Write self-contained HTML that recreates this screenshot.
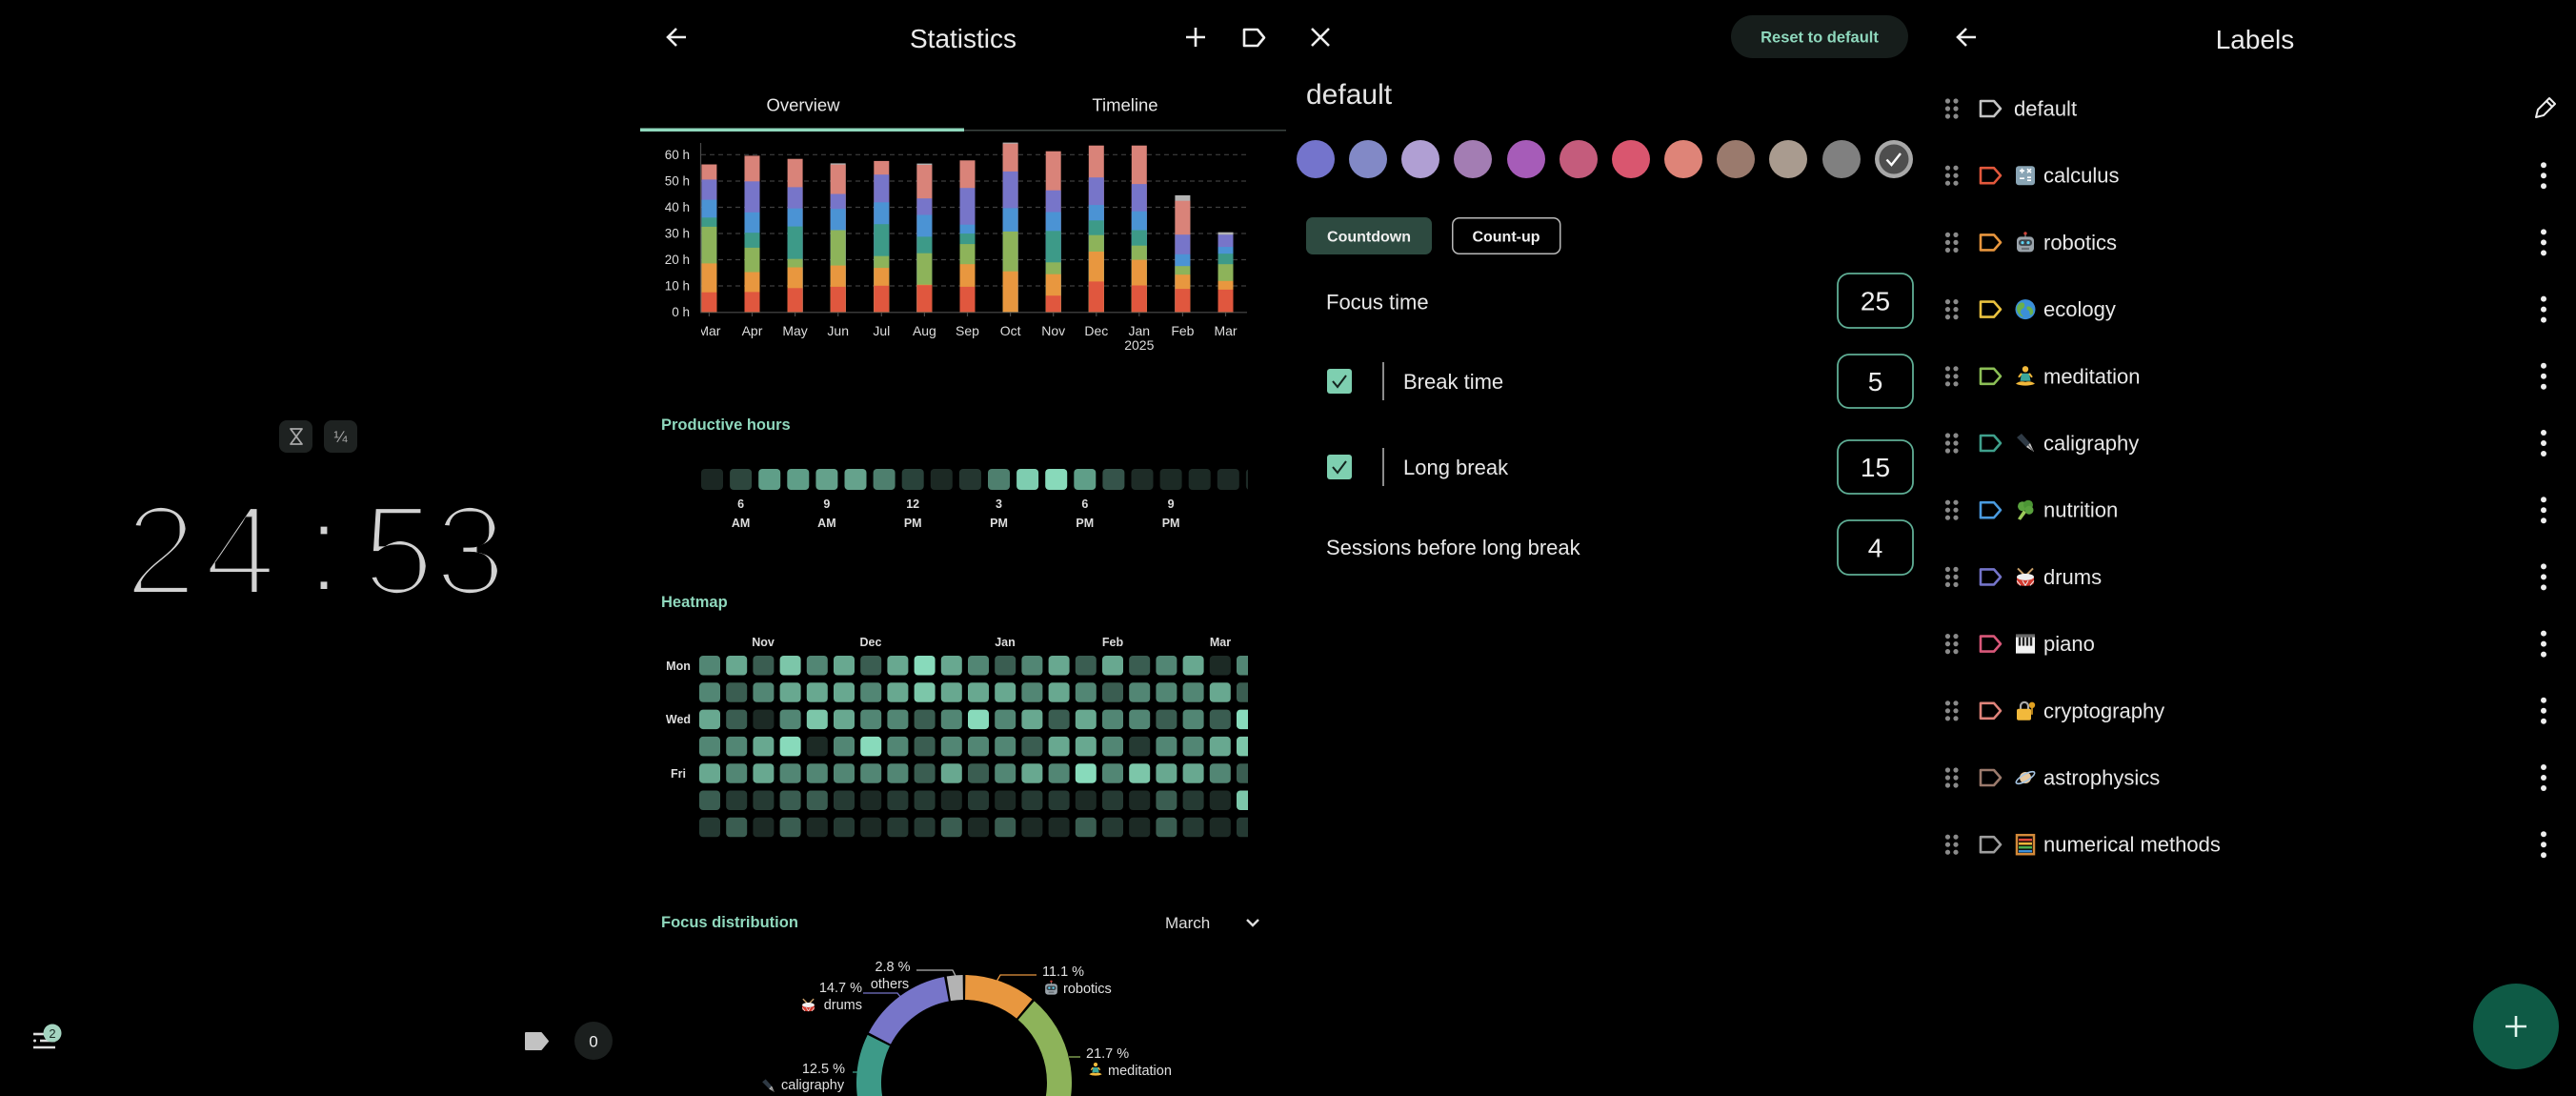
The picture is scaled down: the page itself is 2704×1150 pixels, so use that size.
<!DOCTYPE html>
<html>
<head>
<meta charset="utf-8">
<style>
html,body{margin:0;padding:0;background:#000;}
body{width:2704px;height:1150px;overflow:hidden;}
svg{display:block;}
text{font-family:"Liberation Sans","DejaVu Sans",sans-serif;}
.cR{fill:#e0573e}.cO{fill:#e8973f}.cG{fill:#8db35a}.cT{fill:#3d9a88}.cB{fill:#4b93d4}.cI{fill:#7775c9}.cS{fill:#d98379}.cY{fill:#b3b3b3}
.h0{fill:#1c2a25}.h1{fill:#253a33}.h2{fill:#3a5d51}.h3{fill:#528674}.h4{fill:#68a890}.h5{fill:#7cc6a9}.h6{fill:#88dabb}
</style>
</head>
<body>
<svg width="2704" height="1150" viewBox="0 0 2704 1150" xmlns="http://www.w3.org/2000/svg">
<defs>
  <filter id="thin" x="-10%" y="-10%" width="120%" height="120%"><feMorphology operator="erode" radius="3.2"/></filter>
  <clipPath id="chartClip"><rect x="736" y="140" width="574" height="240"/></clipPath>
  <clipPath id="gridClip"><rect x="700" y="480" width="610" height="420"/></clipPath>
  <clipPath id="bottomClip"><rect x="676" y="980" width="676" height="170"/></clipPath>
  <rect id="hc" width="23" height="22" rx="4"/>
  <rect id="mc" width="22" height="20.5" rx="4"/>
  <path id="tag" d="M0,-8 H14 L21,0 L14,8 H0 Z" fill="none" stroke-width="2.6" stroke-linejoin="round"/>
  <g id="drag" fill="#8a8a8a"><circle cx="0" cy="-8" r="2.6"/><circle cx="8.5" cy="-8" r="2.6"/><circle cx="0" cy="0" r="2.6"/><circle cx="8.5" cy="0" r="2.6"/><circle cx="0" cy="8" r="2.6"/><circle cx="8.5" cy="8" r="2.6"/></g>
  <g id="kebab" fill="#eeeeee"><circle cx="0" cy="-11" r="3"/><circle cx="0" cy="0" r="3"/><circle cx="0" cy="11" r="3"/></g>
  <symbol id="eCalc" viewBox="0 0 24 24"><rect x="2" y="2" width="20" height="20" rx="3" fill="#8aa5b5"/><path d="M6 7h5M8.5 4.5v5M14 5l4 4M18 5l-4 4M6 15h5M14 14h4M14 17h4M8 18v0" stroke="#fff" stroke-width="1.6"/></symbol>
  <symbol id="eRobot" viewBox="0 0 24 24"><rect x="11.3" y="2.5" width="1.4" height="4" fill="#777"/><circle cx="12" cy="2.5" r="1.7" fill="#d0453a"/><rect x="3" y="6" width="18" height="16" rx="4" fill="#9aa3aa"/><rect x="5" y="9" width="14" height="6.5" rx="3" fill="#3b4248"/><circle cx="9" cy="12.2" r="1.6" fill="#5fd3f3"/><circle cx="15" cy="12.2" r="1.6" fill="#5fd3f3"/><rect x="8" y="17.5" width="8" height="2.2" fill="#6b7278"/></symbol>
  <symbol id="eGlobe" viewBox="0 0 24 24"><circle cx="12" cy="12" r="10.5" fill="#3b8fd9"/><path d="M7 5c3-1 5 1 4 4s-4 2-4 6c0 2 2 3 3 5-4-1-7-5-7-9 0-3 2-5 4-6zM14 9c2-1 5 1 6 4s-1 5-3 5c-1-2 0-4-2-5s-2-3-1-4z" fill="#6ab04c"/></symbol>
  <symbol id="eMed" viewBox="0 0 24 24"><circle cx="12" cy="4.5" r="3.2" fill="#f2b93b"/><path d="M8 9h8l1.5 8h-11z" fill="#3aa79a"/><path d="M5 13l3-4M19 13l-3-4" stroke="#f2b93b" stroke-width="2"/><path d="M2 20c3-3 7-3 10-2 3-1 7-1 10 2-6 2.5-14 2.5-20 0z" fill="#f2b93b"/></symbol>
  <symbol id="ePen" viewBox="0 0 24 24"><path d="M3 6l5-4 9 10-4 4z" fill="#2f3a45"/><path d="M13 16l4-4 4 9z" fill="#c9c9c9"/><path d="M15 14l5 6" stroke="#555" stroke-width="1"/></symbol>
  <symbol id="eBroc" viewBox="0 0 24 24"><path d="M10 12l-6 9 3 1.5 6-8z" fill="#9cc95a"/><circle cx="9" cy="8" r="5" fill="#5aa23e"/><circle cx="15" cy="6.5" r="5" fill="#4c9535"/><circle cx="16" cy="12" r="4.5" fill="#5aa23e"/></symbol>
  <symbol id="eDrum" viewBox="0 0 24 24"><path d="M4 3l7 7M20 3l-7 7" stroke="#c9a06a" stroke-width="2"/><path d="M3 12v6c0 2 4 3.5 9 3.5s9-1.5 9-3.5v-6z" fill="#d33a2f"/><ellipse cx="12" cy="12" rx="9" ry="3.5" fill="#eeeeee"/><path d="M3 16l4 5M9 16l3 5M15 16l-3 5M21 16l-4 5" stroke="#eee" stroke-width="1"/></symbol>
  <symbol id="ePiano" viewBox="0 0 24 24"><rect x="2" y="2" width="20" height="20" fill="#f2f2f2"/><rect x="2" y="2" width="20" height="3" fill="#666"/><path d="M6 5v9M10 5v9M14 5v9M18 5v9" stroke="#222" stroke-width="2.4"/></symbol>
  <symbol id="eLock" viewBox="0 0 24 24"><path d="M7 11V7a4 4 0 0 1 8 0v4" stroke="#aaa" stroke-width="2.2" fill="none"/><rect x="3" y="10" width="15" height="12" rx="2" fill="#f2b93b"/><circle cx="19" cy="6" r="3.2" fill="#e0a020"/><rect x="18.2" y="8" width="1.6" height="8" fill="#e0a020"/></symbol>
  <symbol id="ePlanet" viewBox="0 0 24 24"><circle cx="12" cy="12" r="6" fill="#e8c9a0"/><ellipse cx="12" cy="12" rx="11" ry="3.5" fill="none" stroke="#a7c6e4" stroke-width="1.6" transform="rotate(-30 12 12)"/></symbol>
  <symbol id="eAbacus" viewBox="0 0 24 24"><rect x="3" y="2" width="18" height="20" fill="none" stroke="#d48a3a" stroke-width="2.5"/><path d="M5 7h14" stroke="#e04a3a" stroke-width="2.6"/><path d="M5 11h14" stroke="#f0b43c" stroke-width="2.6"/><path d="M5 15h14" stroke="#4caf50" stroke-width="2.6"/><path d="M5 19h14" stroke="#3b8fd9" stroke-width="2.6"/></symbol>
</defs>

<!-- ================= PANEL 1 : TIMER ================= -->
<rect x="293" y="441" width="35" height="34" rx="8" fill="#1e2221"/>
<path d="M305,450 h12 l-12,16 h12 z" fill="none" stroke="#a8a8a8" stroke-width="1.8" stroke-linejoin="round"/>
<rect x="340" y="441" width="35" height="34" rx="8" fill="#1e2221"/>
<text x="357.5" y="464" font-size="17" fill="#a8a8a8" text-anchor="middle">¼</text>

<g filter="url(#thin)" fill="#d2d2d2" font-size="135" text-anchor="middle">
  <text x="168.5" y="624">2</text>
  <text x="252" y="624">4</text>
  <text x="340" y="621">:</text>
  <text x="418" y="624">5</text>
  <text x="493.5" y="624">3</text>
</g>

<!-- bottom bar -->
<g stroke="#dddddd" stroke-width="2.6" stroke-linecap="butt">
  <line x1="35" y1="1085" x2="48" y2="1085"/>
  <line x1="42" y1="1092" x2="58" y2="1092"/>
  <line x1="35" y1="1099" x2="58" y2="1099"/>
</g>
<circle cx="36.5" cy="1092" r="1.5" fill="#ddd"/>
<circle cx="55" cy="1084" r="9.5" fill="#a4d4c0"/>
<text x="55" y="1089" font-size="13" fill="#1a2a24" text-anchor="middle">2</text>
<path d="M552,1084 H568 L575,1092.5 L568,1101 H552 Z" fill="#c2c2c2" stroke="#c2c2c2" stroke-width="2" stroke-linejoin="round"/>
<circle cx="623" cy="1092" r="20" fill="#1b1f1e"/>
<text x="623" y="1098.5" font-size="17" fill="#f0f0f0" text-anchor="middle">0</text>

<!-- ================= PANEL 2 : STATISTICS ================= -->
<path d="M720,39 H701 M710,30 L701,39 L710,48" fill="none" stroke="#eeeeee" stroke-width="2.6" stroke-linejoin="miter"/>
<text x="1011" y="50" font-size="28" fill="#ececec" text-anchor="middle">Statistics</text>
<path d="M1245,39 H1265 M1255,29 V49" stroke="#eeeeee" stroke-width="2.6"/>
<path d="M1306,31 H1320 L1327,39.5 L1320,48 H1306 Z" fill="none" stroke="#eeeeee" stroke-width="2.6" stroke-linejoin="round"/>

<text x="843" y="116.5" font-size="18.5" fill="#e8e8e8" text-anchor="middle">Overview</text>
<text x="1181" y="116.5" font-size="18.5" fill="#e8e8e8" text-anchor="middle">Timeline</text>
<rect x="1012" y="136" width="338" height="1.5" fill="#3b4441"/>
<rect x="672" y="134.5" width="340" height="3.5" fill="#8fd8bd"/>

<!-- chart axes -->
<line x1="735.5" y1="150" x2="735.5" y2="327.3" stroke="#4a4a4a" stroke-width="1.2"/>
<g stroke="#3e3e3e" stroke-width="1.2" stroke-dasharray="5 4">
  <line x1="736" y1="162.3" x2="1309" y2="162.3"/>
  <line x1="736" y1="190" x2="1309" y2="190"/>
  <line x1="736" y1="217.5" x2="1309" y2="217.5"/>
  <line x1="736" y1="245" x2="1309" y2="245"/>
  <line x1="736" y1="272.5" x2="1309" y2="272.5"/>
  <line x1="736" y1="300" x2="1309" y2="300"/>
</g>
<line x1="735" y1="327.8" x2="1309" y2="327.8" stroke="#4a4a4a" stroke-width="1.2"/>
<g font-size="13.5" fill="#dddddd" text-anchor="end">
  <text x="724" y="167">60 h</text>
  <text x="724" y="194.5">50 h</text>
  <text x="724" y="222">40 h</text>
  <text x="724" y="249.5">30 h</text>
  <text x="724" y="277">20 h</text>
  <text x="724" y="304.5">10 h</text>
  <text x="724" y="332">0 h</text>
</g>
<g stroke="#4a4a4a" stroke-width="1.2">
  <line x1="744.4" y1="328" x2="744.4" y2="332"/><line x1="789.5" y1="328" x2="789.5" y2="332"/><line x1="834.6" y1="328" x2="834.6" y2="332"/><line x1="879.7" y1="328" x2="879.7" y2="332"/><line x1="925.3" y1="328" x2="925.3" y2="332"/><line x1="970.4" y1="328" x2="970.4" y2="332"/><line x1="1015.5" y1="328" x2="1015.5" y2="332"/><line x1="1060.6" y1="328" x2="1060.6" y2="332"/><line x1="1105.7" y1="328" x2="1105.7" y2="332"/><line x1="1150.8" y1="328" x2="1150.8" y2="332"/><line x1="1195.8" y1="328" x2="1195.8" y2="332"/><line x1="1241.4" y1="328" x2="1241.4" y2="332"/><line x1="1286.5" y1="328" x2="1286.5" y2="332"/>
</g>
<g font-size="14" fill="#dddddd" text-anchor="middle" clip-path="url(#chartClip)">
  <text x="744.4" y="352">Mar</text><text x="789.5" y="352">Apr</text><text x="834.6" y="352">May</text><text x="879.7" y="352">Jun</text><text x="925.3" y="352">Jul</text><text x="970.4" y="352">Aug</text><text x="1015.5" y="352">Sep</text><text x="1060.6" y="352">Oct</text><text x="1105.7" y="352">Nov</text><text x="1150.8" y="352">Dec</text><text x="1195.8" y="352">Jan</text><text x="1241.4" y="352">Feb</text><text x="1286.5" y="352">Mar</text>
  <text x="1195.8" y="367">2025</text>
</g>

<!-- bars -->
<g>
<rect x="736.4" y="172.5" width="16" height="154.8" class="cS"/><rect x="736.4" y="188.4" width="16" height="138.9" class="cI"/><rect x="736.4" y="209.6" width="16" height="117.7" class="cB"/><rect x="736.4" y="228.3" width="16" height="99" class="cT"/><rect x="736.4" y="237.9" width="16" height="89.4" class="cG"/><rect x="736.4" y="276.4" width="16" height="50.9" class="cO"/><rect x="736.4" y="306.7" width="16" height="20.6" class="cR"/>
<rect x="781.5" y="163.4" width="16" height="163.9" class="cS"/><rect x="781.5" y="190.3" width="16" height="137" class="cI"/><rect x="781.5" y="222.8" width="16" height="104.5" class="cB"/><rect x="781.5" y="244.2" width="16" height="83.1" class="cT"/><rect x="781.5" y="259.9" width="16" height="67.4" class="cG"/><rect x="781.5" y="285.5" width="16" height="41.8" class="cO"/><rect x="781.5" y="306.4" width="16" height="20.9" class="cR"/>
<rect x="826.6" y="166.7" width="16" height="160.6" class="cS"/><rect x="826.6" y="196.4" width="16" height="130.9" class="cI"/><rect x="826.6" y="218.7" width="16" height="108.6" class="cB"/><rect x="826.6" y="237.6" width="16" height="89.7" class="cT"/><rect x="826.6" y="271.7" width="16" height="55.6" class="cG"/><rect x="826.6" y="280.5" width="16" height="46.8" class="cO"/><rect x="826.6" y="302.3" width="16" height="25" class="cR"/>
<rect x="871.7" y="171.4" width="16" height="155.9" class="cY"/><rect x="871.7" y="172.7" width="16" height="154.6" class="cS"/><rect x="871.7" y="203.5" width="16" height="123.8" class="cI"/><rect x="871.7" y="219.2" width="16" height="108.1" class="cB"/><rect x="871.7" y="241.5" width="16" height="85.8" class="cG"/><rect x="871.7" y="278.6" width="16" height="48.7" class="cO"/><rect x="871.7" y="300.9" width="16" height="26.4" class="cR"/>
<rect x="917.3" y="168.9" width="16" height="158.4" class="cS"/><rect x="917.3" y="183.2" width="16" height="144.1" class="cI"/><rect x="917.3" y="212.3" width="16" height="115" class="cB"/><rect x="917.3" y="235.2" width="16" height="92.1" class="cT"/><rect x="917.3" y="268.7" width="16" height="58.6" class="cG"/><rect x="917.3" y="281.1" width="16" height="46.2" class="cO"/><rect x="917.3" y="299.8" width="16" height="27.5" class="cR"/>
<rect x="962.4" y="171.6" width="16" height="155.7" class="cY"/><rect x="962.4" y="173" width="16" height="154.3" class="cS"/><rect x="962.4" y="208.2" width="16" height="119.1" class="cI"/><rect x="962.4" y="225.5" width="16" height="101.8" class="cB"/><rect x="962.4" y="248.4" width="16" height="78.9" class="cT"/><rect x="962.4" y="265.7" width="16" height="61.6" class="cG"/><rect x="962.4" y="298.7" width="16" height="28.6" class="cO"/><rect x="962.4" y="299.2" width="16" height="28.1" class="cR"/>
<rect x="1007.5" y="168.3" width="16" height="159" class="cS"/><rect x="1007.5" y="197.2" width="16" height="130.1" class="cI"/><rect x="1007.5" y="235.7" width="16" height="91.6" class="cB"/><rect x="1007.5" y="245.1" width="16" height="82.2" class="cT"/><rect x="1007.5" y="256.1" width="16" height="71.2" class="cG"/><rect x="1007.5" y="277.2" width="16" height="50.1" class="cO"/><rect x="1007.5" y="300.9" width="16" height="26.4" class="cR"/>
<rect x="1052.6" y="149.6" width="16" height="177.7" class="cY"/><rect x="1052.6" y="150.7" width="16" height="176.6" class="cS"/><rect x="1052.6" y="179.9" width="16" height="147.4" class="cI"/><rect x="1052.6" y="218.4" width="16" height="108.9" class="cB"/><rect x="1052.6" y="242.9" width="16" height="84.4" class="cG"/><rect x="1052.6" y="284.7" width="16" height="42.6" class="cO"/>
<rect x="1097.7" y="158.7" width="16" height="168.6" class="cS"/><rect x="1097.7" y="199.7" width="16" height="127.6" class="cI"/><rect x="1097.7" y="222.5" width="16" height="104.8" class="cB"/><rect x="1097.7" y="242.3" width="16" height="85" class="cT"/><rect x="1097.7" y="275.3" width="16" height="52" class="cG"/><rect x="1097.7" y="287.7" width="16" height="39.6" class="cO"/><rect x="1097.7" y="310.2" width="16" height="17.1" class="cR"/>
<rect x="1142.8" y="152.7" width="16" height="174.6" class="cS"/><rect x="1142.8" y="186.2" width="16" height="141.1" class="cI"/><rect x="1142.8" y="215.1" width="16" height="112.2" class="cB"/><rect x="1142.8" y="231.3" width="16" height="96" class="cT"/><rect x="1142.8" y="246.7" width="16" height="80.6" class="cG"/><rect x="1142.8" y="264" width="16" height="63.3" class="cO"/><rect x="1142.8" y="295.4" width="16" height="31.9" class="cR"/>
<rect x="1187.8" y="152.7" width="16" height="174.6" class="cS"/><rect x="1187.8" y="193.1" width="16" height="134.2" class="cI"/><rect x="1187.8" y="221.7" width="16" height="105.6" class="cB"/><rect x="1187.8" y="241.5" width="16" height="85.8" class="cT"/><rect x="1187.8" y="257.7" width="16" height="69.6" class="cG"/><rect x="1187.8" y="272.6" width="16" height="54.7" class="cO"/><rect x="1187.8" y="299.5" width="16" height="27.8" class="cR"/>
<rect x="1233.4" y="204.9" width="16" height="122.4" class="cY"/><rect x="1233.4" y="210.7" width="16" height="116.6" class="cS"/><rect x="1233.4" y="246.2" width="16" height="81.1" class="cI"/><rect x="1233.4" y="266.8" width="16" height="60.5" class="cB"/><rect x="1233.4" y="279.2" width="16" height="48.1" class="cG"/><rect x="1233.4" y="288.2" width="16" height="39.1" class="cO"/><rect x="1233.4" y="303.1" width="16" height="24.2" class="cR"/>
<rect x="1278.5" y="243.7" width="16" height="83.6" class="cY"/><rect x="1278.5" y="246.2" width="16" height="81.1" class="cI"/><rect x="1278.5" y="259.1" width="16" height="68.2" class="cB"/><rect x="1278.5" y="266.2" width="16" height="61.1" class="cT"/><rect x="1278.5" y="277.2" width="16" height="50.1" class="cG"/><rect x="1278.5" y="294.8" width="16" height="32.5" class="cO"/><rect x="1278.5" y="303.9" width="16" height="23.4" class="cR"/>
</g>

<!-- productive hours -->
<text x="694" y="451" font-size="16.5" font-weight="bold" fill="#8fd8bd">Productive hours</text>
<g clip-path="url(#gridClip)">
<use href="#hc" x="736" y="492" fill="#1b2723"/><use href="#hc" x="766.1" y="492" fill="#2d463d"/><use href="#hc" x="796.2" y="492" fill="#5f9e88"/><use href="#hc" x="826.3" y="492" fill="#5f9e88"/><use href="#hc" x="856.4" y="492" fill="#64a18b"/><use href="#hc" x="886.5" y="492" fill="#65a28c"/><use href="#hc" x="916.6" y="492" fill="#4e7f6e"/><use href="#hc" x="946.7" y="492" fill="#29423a"/><use href="#hc" x="976.8" y="492" fill="#1c2924"/><use href="#hc" x="1006.9" y="492" fill="#243630"/><use href="#hc" x="1037" y="492" fill="#4e7f6e"/><use href="#hc" x="1067.1" y="492" fill="#7ecdb0"/><use href="#hc" x="1097.2" y="492" fill="#88d9ba"/><use href="#hc" x="1127.3" y="492" fill="#5f9e88"/><use href="#hc" x="1157.4" y="492" fill="#35534a"/><use href="#hc" x="1187.5" y="492" fill="#1e2c27"/><use href="#hc" x="1217.6" y="492" fill="#1c2a25"/><use href="#hc" x="1247.7" y="492" fill="#1c2a25"/><use href="#hc" x="1277.8" y="492" fill="#1d2a26"/><use href="#hc" x="1307.9" y="492" fill="#1d2a26"/>
</g>
<g font-size="12.5" font-weight="bold" fill="#dddddd" text-anchor="middle">
  <text x="777.6" y="533">6</text><text x="777.6" y="553">AM</text>
  <text x="867.9" y="533">9</text><text x="867.9" y="553">AM</text>
  <text x="958.2" y="533">12</text><text x="958.2" y="553">PM</text>
  <text x="1048.5" y="533">3</text><text x="1048.5" y="553">PM</text>
  <text x="1138.8" y="533">6</text><text x="1138.8" y="553">PM</text>
  <text x="1229.1" y="533">9</text><text x="1229.1" y="553">PM</text>
</g>

<!-- heatmap -->
<text x="694" y="637" font-size="16.5" font-weight="bold" fill="#8fd8bd">Heatmap</text>
<g font-size="12.5" font-weight="bold" fill="#dddddd" text-anchor="middle">
  <text x="801" y="678">Nov</text><text x="914" y="678">Dec</text><text x="1055" y="678">Jan</text><text x="1168" y="678">Feb</text><text x="1281" y="678">Mar</text>
  <text x="712" y="703">Mon</text><text x="712" y="759">Wed</text><text x="712" y="816">Fri</text>
</g>
<g clip-path="url(#gridClip)">
<g transform="translate(0,688)">
<use href="#mc" x="734" class="h3"/><use href="#mc" x="762.2" class="h4"/><use href="#mc" x="790.4" class="h2"/><use href="#mc" x="818.6" class="h5"/><use href="#mc" x="846.8" class="h3"/><use href="#mc" x="875" class="h4"/><use href="#mc" x="903.2" class="h2"/><use href="#mc" x="931.4" class="h4"/><use href="#mc" x="959.6" class="h6"/><use href="#mc" x="987.8" class="h4"/><use href="#mc" x="1016" class="h3"/><use href="#mc" x="1044.2" class="h2"/><use href="#mc" x="1072.4" class="h3"/><use href="#mc" x="1100.6" class="h4"/><use href="#mc" x="1128.8" class="h2"/><use href="#mc" x="1157" class="h4"/><use href="#mc" x="1185.2" class="h2"/><use href="#mc" x="1213.4" class="h3"/><use href="#mc" x="1241.6" class="h4"/><use href="#mc" x="1269.8" class="h0"/><use href="#mc" x="1298" class="h3"/>
</g>
<g transform="translate(0,716.3)">
<use href="#mc" x="734" class="h3"/><use href="#mc" x="762.2" class="h2"/><use href="#mc" x="790.4" class="h3"/><use href="#mc" x="818.6" class="h4"/><use href="#mc" x="846.8" class="h4"/><use href="#mc" x="875" class="h4"/><use href="#mc" x="903.2" class="h3"/><use href="#mc" x="931.4" class="h4"/><use href="#mc" x="959.6" class="h5"/><use href="#mc" x="987.8" class="h4"/><use href="#mc" x="1016" class="h4"/><use href="#mc" x="1044.2" class="h4"/><use href="#mc" x="1072.4" class="h3"/><use href="#mc" x="1100.6" class="h4"/><use href="#mc" x="1128.8" class="h3"/><use href="#mc" x="1157" class="h2"/><use href="#mc" x="1185.2" class="h3"/><use href="#mc" x="1213.4" class="h3"/><use href="#mc" x="1241.6" class="h3"/><use href="#mc" x="1269.8" class="h4"/><use href="#mc" x="1298" class="h2"/>
</g>
<g transform="translate(0,744.6)">
<use href="#mc" x="734" class="h4"/><use href="#mc" x="762.2" class="h2"/><use href="#mc" x="790.4" class="h0"/><use href="#mc" x="818.6" class="h3"/><use href="#mc" x="846.8" class="h5"/><use href="#mc" x="875" class="h4"/><use href="#mc" x="903.2" class="h3"/><use href="#mc" x="931.4" class="h3"/><use href="#mc" x="959.6" class="h2"/><use href="#mc" x="987.8" class="h3"/><use href="#mc" x="1016" class="h6"/><use href="#mc" x="1044.2" class="h3"/><use href="#mc" x="1072.4" class="h4"/><use href="#mc" x="1100.6" class="h2"/><use href="#mc" x="1128.8" class="h4"/><use href="#mc" x="1157" class="h3"/><use href="#mc" x="1185.2" class="h3"/><use href="#mc" x="1213.4" class="h2"/><use href="#mc" x="1241.6" class="h3"/><use href="#mc" x="1269.8" class="h2"/><use href="#mc" x="1298" class="h6"/>
</g>
<g transform="translate(0,772.9)">
<use href="#mc" x="734" class="h3"/><use href="#mc" x="762.2" class="h3"/><use href="#mc" x="790.4" class="h4"/><use href="#mc" x="818.6" class="h6"/><use href="#mc" x="846.8" class="h0"/><use href="#mc" x="875" class="h3"/><use href="#mc" x="903.2" class="h6"/><use href="#mc" x="931.4" class="h3"/><use href="#mc" x="959.6" class="h2"/><use href="#mc" x="987.8" class="h3"/><use href="#mc" x="1016" class="h3"/><use href="#mc" x="1044.2" class="h3"/><use href="#mc" x="1072.4" class="h2"/><use href="#mc" x="1100.6" class="h4"/><use href="#mc" x="1128.8" class="h4"/><use href="#mc" x="1157" class="h3"/><use href="#mc" x="1185.2" class="h1"/><use href="#mc" x="1213.4" class="h3"/><use href="#mc" x="1241.6" class="h3"/><use href="#mc" x="1269.8" class="h4"/><use href="#mc" x="1298" class="h5"/>
</g>
<g transform="translate(0,801.2)">
<use href="#mc" x="734" class="h4"/><use href="#mc" x="762.2" class="h3"/><use href="#mc" x="790.4" class="h4"/><use href="#mc" x="818.6" class="h3"/><use href="#mc" x="846.8" class="h3"/><use href="#mc" x="875" class="h3"/><use href="#mc" x="903.2" class="h3"/><use href="#mc" x="931.4" class="h3"/><use href="#mc" x="959.6" class="h2"/><use href="#mc" x="987.8" class="h4"/><use href="#mc" x="1016" class="h2"/><use href="#mc" x="1044.2" class="h3"/><use href="#mc" x="1072.4" class="h4"/><use href="#mc" x="1100.6" class="h3"/><use href="#mc" x="1128.8" class="h6"/><use href="#mc" x="1157" class="h3"/><use href="#mc" x="1185.2" class="h5"/><use href="#mc" x="1213.4" class="h4"/><use href="#mc" x="1241.6" class="h4"/><use href="#mc" x="1269.8" class="h3"/><use href="#mc" x="1298" class="h2"/>
</g>
<g transform="translate(0,829.5)">
<use href="#mc" x="734" class="h2"/><use href="#mc" x="762.2" class="h1"/><use href="#mc" x="790.4" class="h1"/><use href="#mc" x="818.6" class="h2"/><use href="#mc" x="846.8" class="h2"/><use href="#mc" x="875" class="h1"/><use href="#mc" x="903.2" class="h0"/><use href="#mc" x="931.4" class="h1"/><use href="#mc" x="959.6" class="h1"/><use href="#mc" x="987.8" class="h0"/><use href="#mc" x="1016" class="h1"/><use href="#mc" x="1044.2" class="h0"/><use href="#mc" x="1072.4" class="h1"/><use href="#mc" x="1100.6" class="h1"/><use href="#mc" x="1128.8" class="h0"/><use href="#mc" x="1157" class="h1"/><use href="#mc" x="1185.2" class="h0"/><use href="#mc" x="1213.4" class="h2"/><use href="#mc" x="1241.6" class="h1"/><use href="#mc" x="1269.8" class="h0"/><use href="#mc" x="1298" class="h5"/>
</g>
<g transform="translate(0,857.8)">
<use href="#mc" x="734" class="h1"/><use href="#mc" x="762.2" class="h2"/><use href="#mc" x="790.4" class="h0"/><use href="#mc" x="818.6" class="h2"/><use href="#mc" x="846.8" class="h0"/><use href="#mc" x="875" class="h1"/><use href="#mc" x="903.2" class="h0"/><use href="#mc" x="931.4" class="h1"/><use href="#mc" x="959.6" class="h1"/><use href="#mc" x="987.8" class="h2"/><use href="#mc" x="1016" class="h0"/><use href="#mc" x="1044.2" class="h2"/><use href="#mc" x="1072.4" class="h0"/><use href="#mc" x="1100.6" class="h0"/><use href="#mc" x="1128.8" class="h2"/><use href="#mc" x="1157" class="h1"/><use href="#mc" x="1185.2" class="h0"/><use href="#mc" x="1213.4" class="h2"/><use href="#mc" x="1241.6" class="h1"/><use href="#mc" x="1269.8" class="h0"/><use href="#mc" x="1298" class="h1"/>
</g>
</g>

<!-- focus distribution -->
<text x="694" y="973" font-size="16.5" font-weight="bold" fill="#8fd8bd">Focus distribution</text>
<text x="1223" y="974" font-size="17" fill="#dddddd">March</text>
<path d="M1309,965 L1315,971 L1321,965" fill="none" stroke="#dddddd" stroke-width="2.4"/>

<g clip-path="url(#bottomClip)" fill="none" stroke-width="26">
  <path d="M995.84,1037.31 A100,100 0 0 1 1010.78,1036.01" stroke="#b3b3b3"/>
  <path d="M1013.22,1036.01 A100,100 0 0 1 1075.34,1058.62" stroke="#e8973f"/>
  <path d="M1077.21,1060.19 A100,100 0 0 1 1100.86,1181.86" stroke="#8db35a"/>
  <path d="M923.46,1089.52 A100,100 0 0 1 993.43,1037.74" stroke="#7775c9"/>
  <path d="M916.52,1165.74 A100,100 0 0 1 922.35,1091.69" stroke="#3d9a88"/>
</g>
<g fill="none" stroke-width="1.3">
  <polyline points="962,1018 1000,1018 1003,1024" stroke="#b3b3b3"/>
  <polyline points="1088,1023 1050,1023 1046,1030" stroke="#e8973f"/>
  <polyline points="906,1042 942,1042 946,1047" stroke="#7775c9"/>
  <polyline points="1122,1109 1134,1109" stroke="#8db35a"/>
  <polyline points="895,1125 903,1125" stroke="#3d9a88"/>
</g>
<g font-size="14.5" fill="#e0e0e0">
  <text x="937" y="1019" text-anchor="middle">2.8 %</text>
  <text x="934" y="1037" text-anchor="middle">others</text>
  <text x="1094" y="1024">11.1 %</text>
  <text x="1116" y="1042">robotics</text>
  <text x="905" y="1041" text-anchor="end">14.7 %</text>
  <text x="905" y="1059" text-anchor="end">drums</text>
  <text x="1140" y="1110">21.7 %</text>
  <text x="1163" y="1128">meditation</text>
  <text x="887" y="1126" text-anchor="end">12.5 %</text>
  <text x="820" y="1143">caligraphy</text>
</g>
<use href="#eRobot" x="1095" y="1028" width="17" height="17"/>
<use href="#eDrum" x="840" y="1046" width="17" height="17"/>
<use href="#eMed" x="1142" y="1114" width="16" height="16"/>
<use href="#ePen" x="798" y="1131" width="17" height="17"/>

<!-- ================= PANEL 3 : LABEL EDIT ================= -->
<path d="M1377,30 L1395,48 M1395,30 L1377,48" stroke="#eeeeee" stroke-width="2.6"/>
<rect x="1817" y="16" width="186" height="45" rx="22.5" fill="#161d1b"/>
<text x="1910" y="44.5" font-size="16.5" font-weight="bold" fill="#8fd8bd" text-anchor="middle">Reset to default</text>
<text x="1371" y="109" font-size="30" fill="#e4e4e4">default</text>

<g>
  <circle cx="1381" cy="167" r="20" fill="#7474cc"/>
  <circle cx="1436" cy="167" r="20" fill="#8289c6"/>
  <circle cx="1491" cy="167" r="20" fill="#b09fd3"/>
  <circle cx="1546" cy="167" r="20" fill="#a37db3"/>
  <circle cx="1602" cy="167" r="20" fill="#a65cb8"/>
  <circle cx="1657" cy="167" r="20" fill="#c45c7c"/>
  <circle cx="1712" cy="167" r="20" fill="#d9566f"/>
  <circle cx="1767" cy="167" r="20" fill="#de8478"/>
  <circle cx="1822" cy="167" r="20" fill="#9a7a6d"/>
  <circle cx="1877" cy="167" r="20" fill="#a99b8f"/>
  <circle cx="1933" cy="167" r="20" fill="#808080"/>
  <circle cx="1988" cy="167" r="20" fill="#a8a8a8"/>
  <circle cx="1988" cy="167" r="15.5" fill="#4e4e4e"/>
  <polyline points="1980.5,167.5 1985.5,173 1995,161" fill="none" stroke="#ffffff" stroke-width="2.4"/>
</g>

<rect x="1371" y="228" width="132" height="39" rx="7" fill="#2d4a40"/>
<text x="1437" y="253.5" font-size="16" font-weight="bold" fill="#f0f0f0" text-anchor="middle">Countdown</text>
<rect x="1524.75" y="228.75" width="113" height="37.5" rx="7" fill="none" stroke="#b8b8b8" stroke-width="1.5"/>
<text x="1581" y="253.5" font-size="16" font-weight="bold" fill="#f0f0f0" text-anchor="middle">Count-up</text>

<g font-size="22" fill="#e8e8e8">
  <text x="1392" y="324.5">Focus time</text>
  <text x="1473" y="408">Break time</text>
  <text x="1473" y="498">Long break</text>
  <text x="1392" y="582">Sessions before long break</text>
</g>
<g fill="none" stroke="#5fae95" stroke-width="1.8">
  <rect x="1929" y="287" width="79" height="57" rx="12"/>
  <rect x="1929" y="372" width="79" height="56" rx="12"/>
  <rect x="1929" y="462" width="79" height="56" rx="12"/>
  <rect x="1929" y="546" width="79" height="57" rx="12"/>
</g>
<g font-size="28" fill="#f0f0f0" text-anchor="middle">
  <text x="1968.5" y="325.5">25</text>
  <text x="1968.5" y="410">5</text>
  <text x="1968.5" y="500">15</text>
  <text x="1968.5" y="584.5">4</text>
</g>
<rect x="1393" y="387" width="26" height="26" rx="3" fill="#7ecfb0"/>
<polyline points="1399,400 1404,406 1413,394" fill="none" stroke="#14241e" stroke-width="2"/>
<rect x="1393" y="477" width="26" height="26" rx="3" fill="#7ecfb0"/>
<polyline points="1399,490 1404,496 1413,484" fill="none" stroke="#14241e" stroke-width="2"/>
<line x1="1452" y1="380" x2="1452" y2="420" stroke="#b0b0b0" stroke-width="1.6"/>
<line x1="1452" y1="470" x2="1452" y2="510" stroke="#b0b0b0" stroke-width="1.6"/>

<!-- ================= PANEL 4 : LABELS ================= -->
<path d="M2074,39 H2055 M2064,30 L2055,39 L2064,48" fill="none" stroke="#eeeeee" stroke-width="2.6"/>
<text x="2367" y="51" font-size="28" fill="#ececec" text-anchor="middle">Labels</text>

<g font-size="22" fill="#e8e8e8">
  <!-- row 0 default -->
  <use href="#drag" x="2044.5" y="114"/>
  <use href="#tag" x="2079" y="114" stroke="#c4c4c4"/>
  <text x="2114" y="121.5">default</text>
  <path d="M2662,123 L2664,115 L2676,103 L2682,109 L2670,121 Z M2673,106 L2679,112" fill="none" stroke="#eeeeee" stroke-width="2" stroke-linejoin="round"/>

  <use href="#drag" x="2044.5" y="184.2"/>
  <use href="#tag" x="2079" y="184.2" stroke="#e2583c"/>
  <use href="#eCalc" x="2114" y="172.2" width="24" height="24"/>
  <text x="2145" y="191.7">calculus</text>
  <use href="#kebab" x="2670" y="184.2"/>

  <use href="#drag" x="2044.5" y="254.4"/>
  <use href="#tag" x="2079" y="254.4" stroke="#e8963e"/>
  <use href="#eRobot" x="2114" y="242.4" width="24" height="24"/>
  <text x="2145" y="261.9">robotics</text>
  <use href="#kebab" x="2670" y="254.4"/>

  <use href="#drag" x="2044.5" y="324.6"/>
  <use href="#tag" x="2079" y="324.6" stroke="#eac23f"/>
  <use href="#eGlobe" x="2114" y="312.6" width="24" height="24"/>
  <text x="2145" y="332.1">ecology</text>
  <use href="#kebab" x="2670" y="324.6"/>

  <use href="#drag" x="2044.5" y="394.8"/>
  <use href="#tag" x="2079" y="394.8" stroke="#8cbf56"/>
  <use href="#eMed" x="2114" y="382.8" width="24" height="24"/>
  <text x="2145" y="402.3">meditation</text>
  <use href="#kebab" x="2670" y="394.8"/>

  <use href="#drag" x="2044.5" y="465"/>
  <use href="#tag" x="2079" y="465" stroke="#3fa08c"/>
  <use href="#ePen" x="2114" y="453" width="24" height="24"/>
  <text x="2145" y="472.5">caligraphy</text>
  <use href="#kebab" x="2670" y="465"/>

  <use href="#drag" x="2044.5" y="535.2"/>
  <use href="#tag" x="2079" y="535.2" stroke="#4a9be0"/>
  <use href="#eBroc" x="2114" y="523.2" width="24" height="24"/>
  <text x="2145" y="542.7">nutrition</text>
  <use href="#kebab" x="2670" y="535.2"/>

  <use href="#drag" x="2044.5" y="605.4"/>
  <use href="#tag" x="2079" y="605.4" stroke="#7474c9"/>
  <use href="#eDrum" x="2114" y="593.4" width="24" height="24"/>
  <text x="2145" y="612.9">drums</text>
  <use href="#kebab" x="2670" y="605.4"/>

  <use href="#drag" x="2044.5" y="675.6"/>
  <use href="#tag" x="2079" y="675.6" stroke="#d9587a"/>
  <use href="#ePiano" x="2114" y="663.6" width="24" height="24"/>
  <text x="2145" y="683.1">piano</text>
  <use href="#kebab" x="2670" y="675.6"/>

  <use href="#drag" x="2044.5" y="745.8"/>
  <use href="#tag" x="2079" y="745.8" stroke="#df837a"/>
  <use href="#eLock" x="2114" y="733.8" width="24" height="24"/>
  <text x="2145" y="753.3">cryptography</text>
  <use href="#kebab" x="2670" y="745.8"/>

  <use href="#drag" x="2044.5" y="816"/>
  <use href="#tag" x="2079" y="816" stroke="#9b7a6c"/>
  <use href="#ePlanet" x="2114" y="804" width="24" height="24"/>
  <text x="2145" y="823.5">astrophysics</text>
  <use href="#kebab" x="2670" y="816"/>

  <use href="#drag" x="2044.5" y="886.2"/>
  <use href="#tag" x="2079" y="886.2" stroke="#9e9e9e"/>
  <use href="#eAbacus" x="2114" y="874.2" width="24" height="24"/>
  <text x="2145" y="893.7">numerical methods</text>
  <use href="#kebab" x="2670" y="886.2"/>
</g>

<circle cx="2641" cy="1077" r="45" fill="#0e5a45"/>
<path d="M2630,1077 H2652 M2641,1066 V1088" stroke="#e0f5ec" stroke-width="2.6"/>
</svg>
</body>
</html>
